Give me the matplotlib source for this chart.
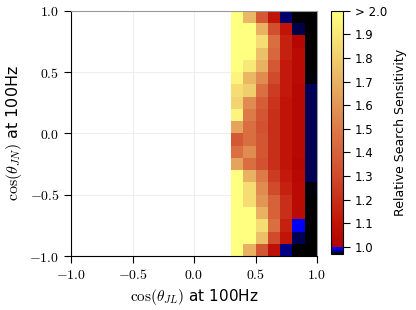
import numpy as np
import matplotlib
matplotlib.use("Agg")
import matplotlib.pyplot as plt
from matplotlib.colors import LinearSegmentedColormap, Normalize

plt.rcParams['mathtext.fontset'] = 'cm'

# cell edges
x_edges = [0.3, 0.4, 0.5, 0.6, 0.7, 0.8, 0.9, 1.0]
y_edges = [round(-1.0 + 0.1 * i, 1) for i in range(21)]

# relative sensitivity, rows from top (cos=1) to bottom (cos=-1)
sens_rows = [
    [2.10, 1.72, 1.36, 1.10, 0.980, 0.95, 0.95],
    [2.10, 2.10, 1.70, 1.32, 1.10, 0.977, 0.95],
    [2.10, 2.10, 1.86, 1.45, 1.15, 1.03, 0.95],
    [2.10, 2.10, 1.75, 1.42, 1.15, 1.05, 0.95],
    [2.10, 1.90, 1.70, 1.36, 1.12, 1.05, 0.95],
    [1.95, 1.72, 1.56, 1.30, 1.12, 1.05, 0.972],
    [1.86, 1.80, 1.46, 1.25, 1.12, 1.04, 0.978],
    [1.83, 1.56, 1.38, 1.22, 1.10, 1.04, 0.978],
    [1.95, 1.50, 1.35, 1.20, 1.10, 1.04, 0.978],
    [1.65, 1.45, 1.33, 1.20, 1.10, 1.04, 0.978],
    [1.36, 1.45, 1.35, 1.20, 1.10, 1.04, 0.978],
    [1.46, 1.56, 1.35, 1.20, 1.10, 1.04, 0.978],
    [1.65, 1.45, 1.33, 1.20, 1.10, 1.03, 0.978],
    [2.10, 1.70, 1.50, 1.25, 1.12, 1.04, 0.978],
    [2.10, 1.86, 1.56, 1.30, 1.15, 1.05, 0.972],
    [2.10, 1.86, 1.60, 1.40, 1.20, 1.05, 0.95],
    [2.10, 2.10, 1.70, 1.40, 1.20, 1.05, 0.95],
    [2.10, 2.10, 1.86, 1.45, 1.15, 0.992, 0.95],
    [2.10, 2.10, 1.75, 1.30, 1.10, 0.978, 0.95],
    [2.10, 1.70, 1.35, 1.08, 0.983, 0.95, 0.95],
]

cbar_ticks = [1.0, 1.1, 1.2, 1.3, 1.4, 1.5, 1.6, 1.7, 1.8, 1.9, 2.0]
cbar_labels = ['1.0', '1.1', '1.2', '1.3', '1.4', '1.5', '1.6', '1.7', '1.8', '1.9', '> 2.0']
axis_ticks = [-1.0, -0.5, 0.0, 0.5, 1.0]

vmin, vmax = 0.97, 2.0
# colour nodes (value, colour)
nodes = [
    (0.970, '#000000'),
    (0.978, '#000060'),
    (0.983, '#000090'),
    (0.992, '#0000ff'),
    (0.999, '#0000ff'),
    (1.000, '#b20000'),
    (1.100, '#c01408'),
    (1.300, '#d04a2c'),
    (1.500, '#dc7a48'),
    (1.700, '#e8b262'),
    (1.900, '#f8e878'),
    (2.000, '#ffff80'),
]
cmap = LinearSegmentedColormap.from_list(
    'sens', [((v - vmin) / (vmax - vmin), c) for v, c in nodes], N=1024)
cmap.set_under('black')
cmap.set_over('#ffff80')

Z = np.array(sens_rows[::-1])

fig = plt.figure(figsize=(4.16, 3.10), dpi=100)
ax = fig.add_axes([0.171, 0.174, 0.591, 0.791])
cax = fig.add_axes([0.796, 0.181, 0.029, 0.784])

ax.grid(True, color='#eeeeee', linewidth=0.8)
ax.set_axisbelow(True)
mesh = ax.pcolormesh(x_edges, y_edges, Z, cmap=cmap,
                     norm=Normalize(vmin=vmin, vmax=vmax))
ax.set_xlim(-1, 1)
ax.set_ylim(-1, 1)
ax.set_xticks(axis_ticks)
ax.set_yticks(axis_ticks)
ax.set_xticklabels([r'$%.1f$' % t for t in axis_ticks], fontsize=10)
ax.set_yticklabels([r'$%.1f$' % t for t in axis_ticks], fontsize=10)
ax.tick_params(direction='out', length=5, width=0.8)
for s in ['top', 'right']:
    ax.spines[s].set_color('#999999')
ax.set_xlabel(r'$\cos(\theta_{JL})$ at 100Hz', fontsize=11)
ax.set_ylabel(r'$\cos(\theta_{JN})$ at 100Hz', fontsize=11.5)

cb = fig.colorbar(mesh, cax=cax, ticks=cbar_ticks)
cb.ax.set_yticklabels(cbar_labels, fontsize=8.5)
cb.ax.tick_params(length=5, width=0.8)
cb.outline.set_linewidth(0.8)
cb.set_label('Relative Search Sensitivity', fontsize=9, labelpad=5)

fig.savefig('out.png', dpi=100)
